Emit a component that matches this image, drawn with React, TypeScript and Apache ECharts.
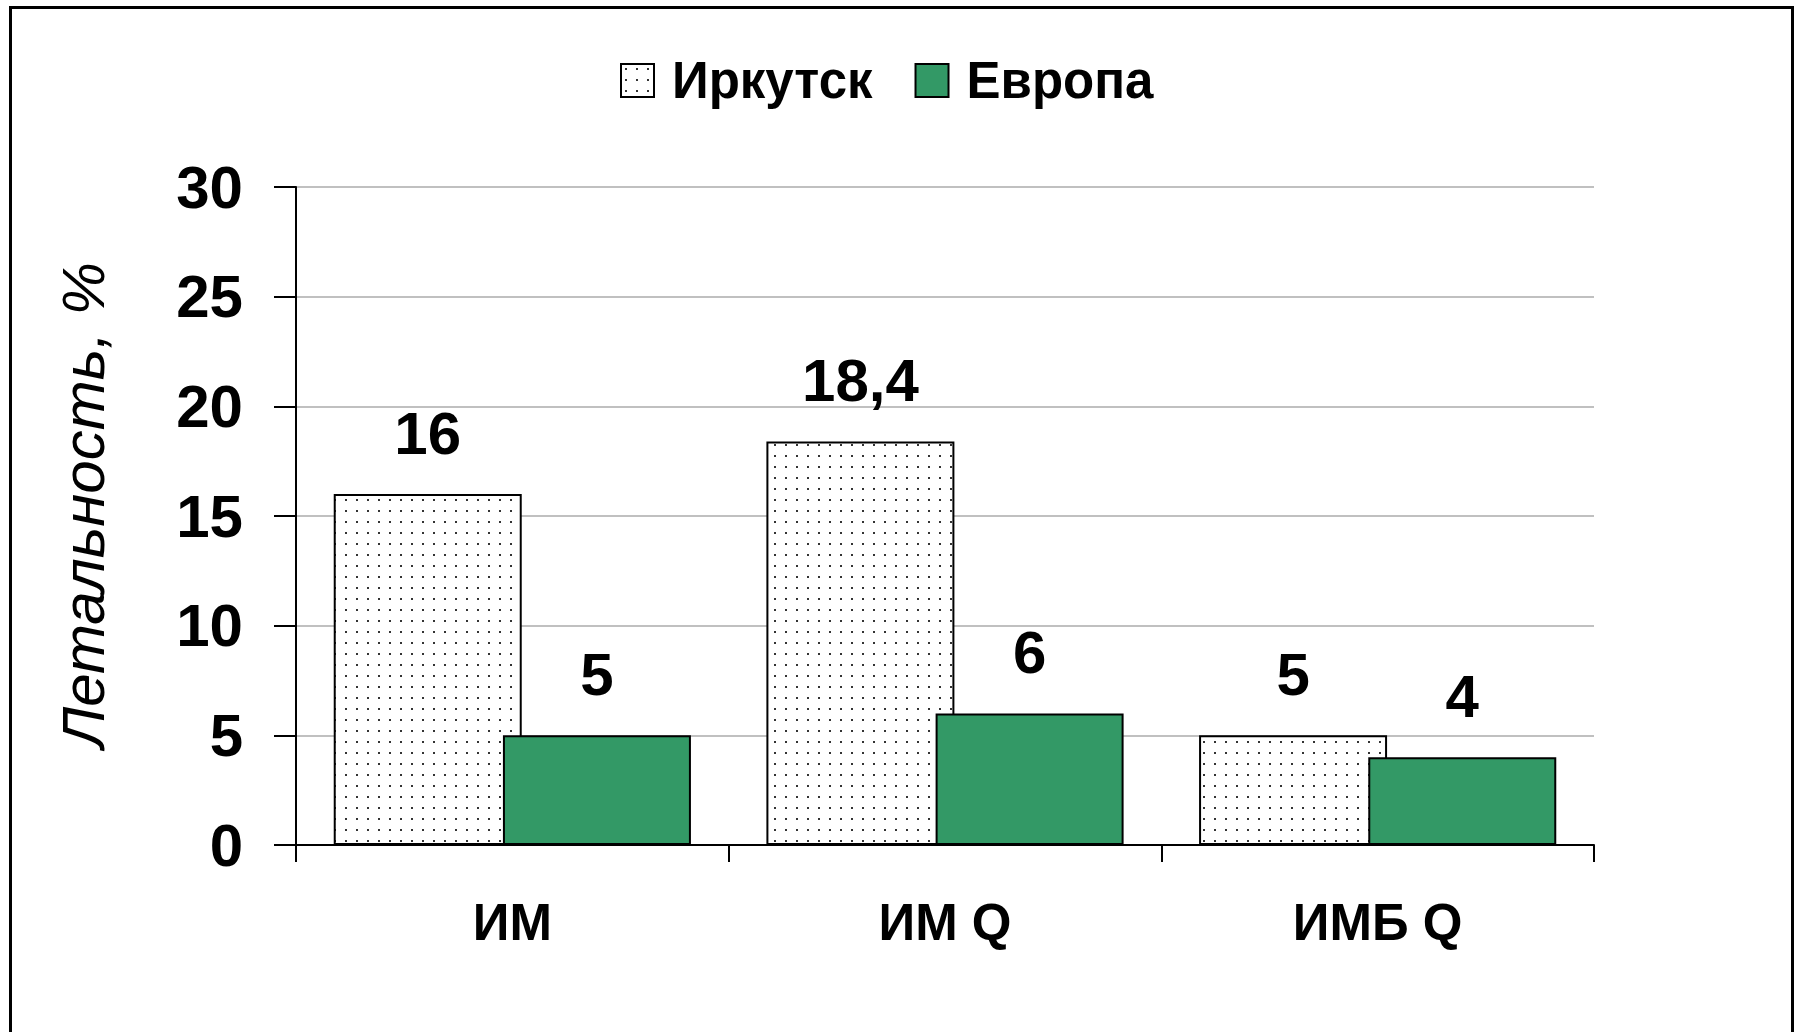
import React, { useEffect, useRef } from "react";
import * as echarts from "echarts";

const categories = ["ИМ", "ИМ Q", "ИМБ Q"];
const seriesNames = ["Иркутск", "Европа"];
const irkutskValues = [16, 18.4, 5];
const europeValues = [5, 6, 4];
const yTicks = { min: 0, max: 30, interval: 5 };
const yAxisTitle = "Летальность, %";

const FONT = "'Liberation Sans', Arial, Helvetica, sans-serif";

function makeDotPattern(): HTMLCanvasElement {
  const c = document.createElement("canvas");
  c.width = 11;
  c.height = 11;
  const ctx = c.getContext("2d")!;
  ctx.fillStyle = "#ffffff";
  ctx.fillRect(0, 0, 11, 11);
  ctx.fillStyle = "#333333";
  ctx.fillRect(4, 4, 2, 2);
  return c;
}

export default function App() {
  const ref = useRef<HTMLDivElement>(null);

  useEffect(() => {
    document.body.style.margin = "0";
    const chart = echarts.init(ref.current!, null, { renderer: "svg" });
    const pattern = makeDotPattern();
    const fmt = (p: any) => String(p.value).replace(".", ",");
    const labelStyle = {
      show: true,
      position: "top" as const,
      distance: 31,
      fontSize: 60,
      fontWeight: "bold" as const,
      fontFamily: FONT,
      color: "#000",
      formatter: fmt,
    };

    chart.setOption({
      animation: false,
      backgroundColor: "#ffffff",
      legend: {
        left: 615,
        top: 50,
        icon: "rect",
        itemWidth: 33,
        itemHeight: 33,
        itemGap: 42,
        data: seriesNames,
        textStyle: {
          fontSize: 51,
          fontWeight: "bold",
          fontFamily: FONT,
          color: "#000",
          lineHeight: 36,
          padding: [0, 0, 0, 13],
        },
      },
      grid: { left: 296, right: 203, top: 187, bottom: 187, containLabel: false },
      xAxis: {
        type: "category",
        data: categories,
        axisLine: { lineStyle: { color: "#000", width: 2 } },
        axisTick: { show: true, length: 17, lineStyle: { color: "#000", width: 2 } },
        axisLabel: {
          margin: 52,
          fontSize: 51,
          fontWeight: "bold",
          fontFamily: FONT,
          color: "#000",
        },
      },
      yAxis: {
        type: "value",
        min: yTicks.min,
        max: yTicks.max,
        interval: yTicks.interval,
        axisLine: { show: true, lineStyle: { color: "#000", width: 2 } },
        axisTick: { show: true, length: 22, lineStyle: { color: "#000", width: 2 } },
        splitLine: { show: true, lineStyle: { color: "#c0c0c0", width: 2 } },
        axisLabel: {
          margin: 53,
          fontSize: 60,
          fontWeight: "bold",
          fontFamily: FONT,
          color: "#000",
        },
      },
      series: [
        {
          name: seriesNames[0],
          type: "bar",
          data: irkutskValues,
          barWidth: 188,
          barGap: "-10%",
          itemStyle: {
            color: { image: pattern, repeat: "repeat" },
            borderColor: "#000",
            borderWidth: 2,
          },
          label: labelStyle,
        },
        {
          name: seriesNames[1],
          type: "bar",
          data: europeValues,
          barWidth: 188,
          barGap: "-10%",
          itemStyle: { color: "#339966", borderColor: "#000", borderWidth: 2 },
          label: labelStyle,
        },
      ],
      graphic: [
        {
          type: "text",
          x: 83,
          y: 505,
          rotation: Math.PI / 2,
          style: {
            text: yAxisTitle,
            fontSize: 60,
            fontStyle: "italic",
            fontFamily: FONT,
            fill: "#000",
            align: "center",
            verticalAlign: "middle",
          },
        },
        {
          type: "rect",
          shape: { x: 10.5, y: 7.5, width: 1782, height: 1100 },
          style: { fill: "none", stroke: "#000", lineWidth: 3 },
          silent: true,
        },
      ],
    });
    return () => chart.dispose();
  }, []);

  return (
    <div
      ref={ref}
      style={{ position: "fixed", left: 0, top: 0, width: 1797, height: 1032 }}
    />
  );
}
